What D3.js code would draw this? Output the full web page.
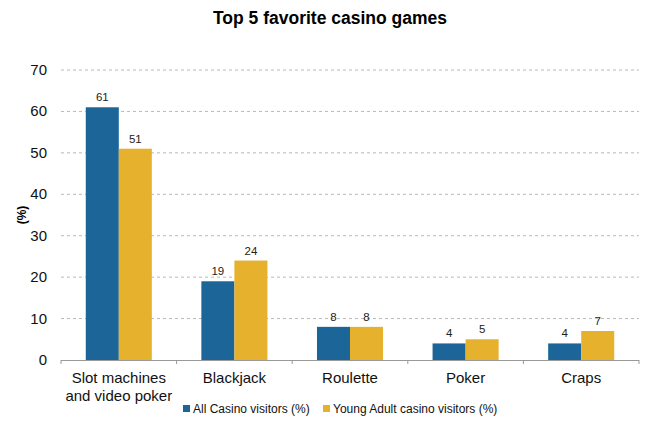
<!DOCTYPE html>
<html><head><meta charset="utf-8">
<script src="https://cdn.jsdelivr.net/npm/d3@7"></script>
<style>body{margin:0;background:#fff;} text{font-family:Arial,"Liberation Sans",sans-serif;}</style>
</head><body>
<svg id="c" width="655" height="425"></svg>
<script>
const categories = [["Slot machines","and video poker"],["Blackjack"],["Roulette"],["Poker"],["Craps"]];
const seriesNames = ["All Casino visitors (%)","Young Adult casino visitors (%)"];
const allVisitors = [61,19,8,4,4];
const youngAdults = [51,24,8,5,7];
const yTicks = [0,10,20,30,40,50,60,70];
const colors = ["#1B6598","#E6B12C"];

const svg = d3.select("#c");
const m = {l:61, r:16, t:70, b:65};
const W = 655, H = 425;
const x = d3.scaleBand().domain(d3.range(categories.length)).range([m.l, W-m.r]).paddingInner(0).paddingOuter(0);
const y = d3.scaleLinear().domain([0,70]).range([H-m.b, m.t]);
const x1 = d3.scaleBand().domain([0,1]).range([0, x.bandwidth()]).paddingInner(0).paddingOuter(0.75);

svg.append("text").attr("x",330).attr("y",24).attr("text-anchor","middle")
  .attr("font-size",17.5).attr("font-weight","bold").text("Top 5 favorite casino games");

// grid
svg.append("g").selectAll("line").data(yTicks.filter(d=>d>0)).join("line")
  .attr("x1",m.l).attr("x2",W-m.r).attr("y1",d=>y(d)).attr("y2",d=>y(d))
  .attr("stroke","#b8b8b8").attr("stroke-dasharray","3,3").attr("stroke-width",1);

// y labels
svg.append("g").selectAll("text").data(yTicks).join("text")
  .attr("x",47).attr("y",d=>y(d)+5).attr("text-anchor","end").attr("font-size",15).attr("fill","#111").text(d=>d);

svg.append("text").attr("transform","translate(26,"+y(35)+") rotate(-90)").attr("text-anchor","middle")
  .attr("font-size",12).attr("font-weight","bold").text("(%)");

// bars
const data = categories.map((c,i)=>[allVisitors[i],youngAdults[i]]);
const g = svg.append("g").selectAll("g").data(data).join("g").attr("transform",(d,i)=>`translate(${x(i)},0)`);
g.selectAll("rect").data(d=>d).join("rect")
  .attr("x",(d,j)=>x1(j)).attr("width",x1.bandwidth()).attr("y",d=>y(d)).attr("height",d=>y(0)-y(d))
  .attr("fill",(d,j)=>colors[j]);
g.selectAll("text").data(d=>d).join("text")
  .attr("x",(d,j)=>x1(j)+x1.bandwidth()/2).attr("y",d=>y(d)-6).attr("text-anchor","middle")
  .attr("font-size",11.5).attr("fill","#222").text(d=>d);

// x axis
const ax = svg.append("g");
ax.append("line").attr("x1",m.l).attr("x2",W-m.r).attr("y1",y(0)+0.5).attr("y2",y(0)+0.5).attr("stroke","#999");
ax.selectAll("line.t").data(d3.range(categories.length+1)).join("line").attr("class","t")
  .attr("x1",i=>m.l+i*x.bandwidth()).attr("x2",i=>m.l+i*x.bandwidth()).attr("y1",y(0)).attr("y2",y(0)+4).attr("stroke","#999");
const cl = svg.append("g").selectAll("text").data(categories).join("text")
  .attr("text-anchor","middle").attr("font-size",15).attr("fill","#111");
cl.each(function(lines,i){
  d3.select(this).selectAll("tspan").data(lines).join("tspan")
    .attr("x",x(i)+x.bandwidth()/2).attr("y",(d,k)=>383+k*18).text(d=>d);
});

// legend
const lx = [183, 323];
const lg = svg.append("g").selectAll("g").data(seriesNames).join("g").attr("transform",(d,i)=>`translate(${lx[i]},0)`);
lg.append("rect").attr("x",0).attr("y",405).attr("width",7).attr("height",7).attr("fill",(d,i)=>colors[i]);
lg.append("text").attr("x",10).attr("y",413).attr("font-size",12).attr("fill","#111").text(d=>d);
</script>
</body></html>
